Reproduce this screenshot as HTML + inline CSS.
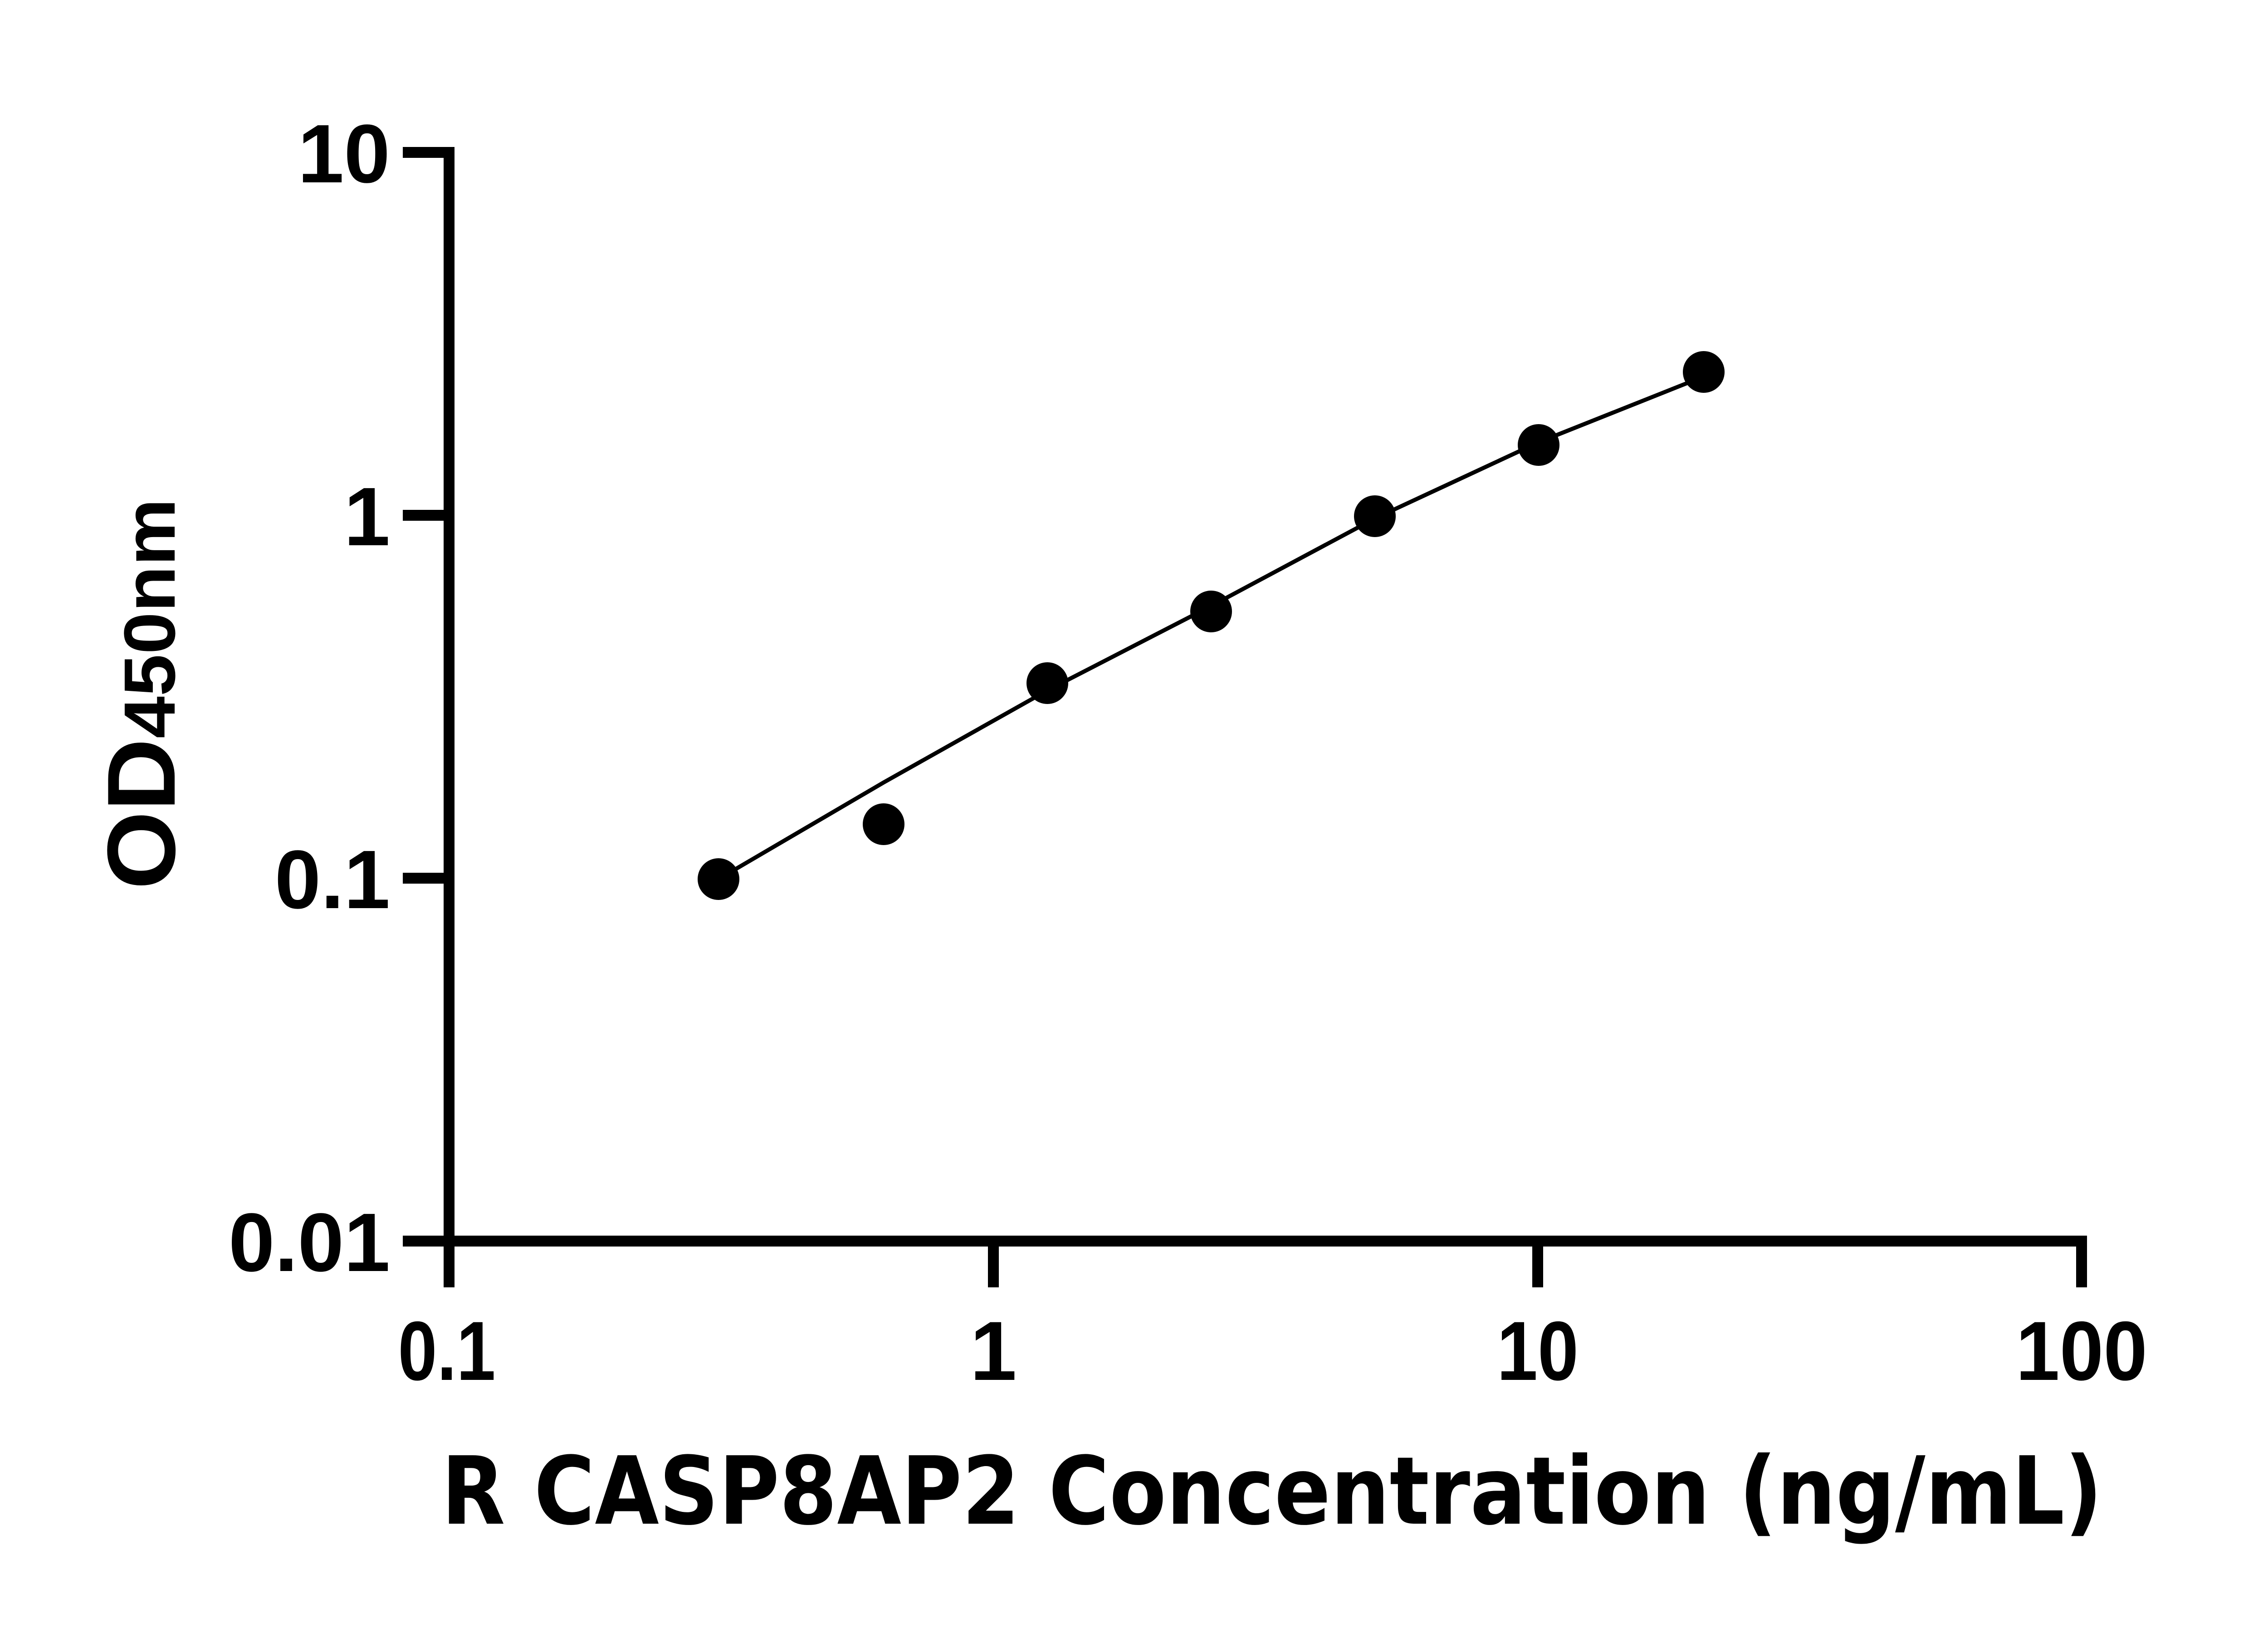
<!DOCTYPE html>
<html><head><meta charset="utf-8"><style>html,body{margin:0;padding:0;background:#fff}svg{display:block}
.y{font-family:"Liberation Sans",Arial,sans-serif;font-weight:bold}
.x{font-family:"Liberation Sans",Arial,sans-serif;font-weight:bold}
.t{font-family:"DejaVu Sans",sans-serif;font-weight:bold}
</style></head>
<body>
<svg width="5142" height="3600" viewBox="0 0 5142 3600" xmlns="http://www.w3.org/2000/svg">
<g stroke="#000" stroke-width="24" fill="none" stroke-linecap="butt">
<line x1="990" y1="324" x2="990" y2="2748"/>
<line x1="978" y1="2736" x2="4601" y2="2736"/>
<line x1="888" y1="336" x2="1002" y2="336"/>
<line x1="888" y1="1136" x2="1002" y2="1136"/>
<line x1="888" y1="1936" x2="1002" y2="1936"/>
<line x1="888" y1="2736" x2="1002" y2="2736"/>
<line x1="990" y1="2724" x2="990" y2="2838"/>
<line x1="2190" y1="2724" x2="2190" y2="2838"/>
<line x1="3390" y1="2724" x2="3390" y2="2838"/>
<line x1="4589" y1="2724" x2="4589" y2="2838"/>
</g>
<polyline fill="none" stroke="#000" stroke-width="9" points="1584,1938 1948,1725 2309,1522 2670,1336 3031,1143 3392,975 3756,830"/>
<g fill="#000">
<circle cx="1584" cy="1938" r="46"/>
<circle cx="1948" cy="1817" r="46"/>
<circle cx="2309" cy="1506" r="46"/>
<circle cx="2670" cy="1348" r="46"/>
<circle cx="3031" cy="1138" r="46"/>
<circle cx="3392" cy="981" r="46"/>
<circle cx="3756" cy="820" r="46"/>
</g>
<g class="y" font-size="183" text-anchor="end">
<text x="860" y="402">10</text>
<text x="860" y="1202">1</text>
<text x="860" y="2002">0.1</text>
<text x="860" y="2802">0.01</text>
</g>
<g class="x" font-size="185" text-anchor="middle" lengthAdjust="spacingAndGlyphs">
<text x="985" y="3042" textLength="215" lengthAdjust="spacingAndGlyphs">0.1</text>
<text x="2190" y="3042">1</text>
<text x="3390" y="3042" textLength="180" lengthAdjust="spacingAndGlyphs">10</text>
<text x="4589" y="3042" textLength="290" lengthAdjust="spacingAndGlyphs">100</text>
</g>
<text class="t" x="973" y="3359" font-size="207" textLength="3662" lengthAdjust="spacingAndGlyphs">R CASP8AP2 Concentration (ng/mL)</text>
<text class="y" transform="translate(385,1961) rotate(-90)" textLength="862" lengthAdjust="spacingAndGlyphs"><tspan font-size="213">OD</tspan><tspan font-size="160">450nm</tspan></text>
</svg>
</body></html>
